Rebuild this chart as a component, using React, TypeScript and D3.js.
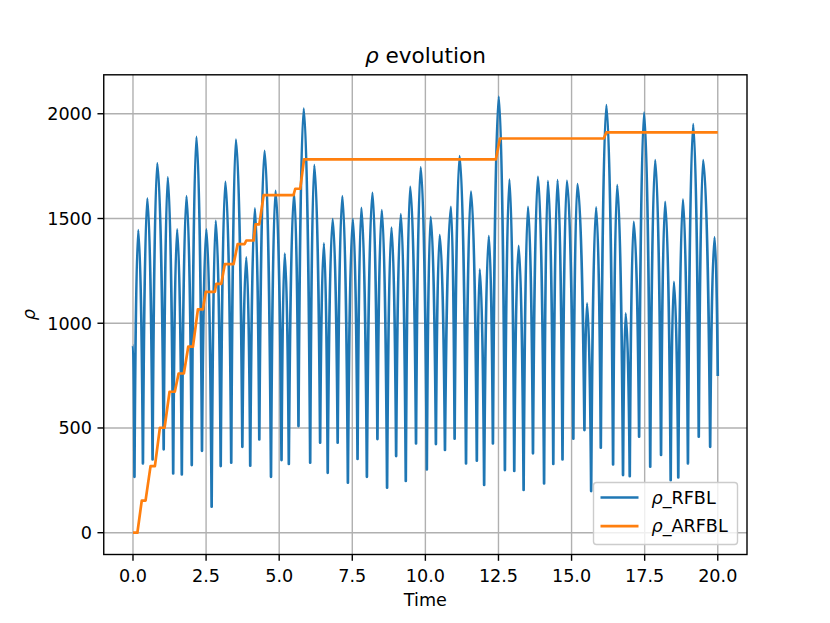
import * as d3 from "d3";

// rho_RFBL: extrema (time, value)
const rfblTime = [
  0, 0.05, 0.18, 0.34, 0.49, 0.67, 0.83, 1.05, 1.19, 1.375, 1.51, 1.67, 1.83, 2.01, 2.17, 2.36,
  2.51, 2.69, 2.83, 3.0, 3.16, 3.36, 3.52, 3.74, 3.875, 4.01, 4.17, 4.32, 4.5, 4.72, 4.875, 5.08,
  5.19, 5.33, 5.51, 5.66, 5.84, 6.06, 6.2, 6.4, 6.53, 6.66, 6.83, 7.0, 7.16, 7.35, 7.52, 7.68,
  7.81, 8.0, 8.19, 8.36, 8.51, 8.69, 8.84, 9.0, 9.16, 9.33, 9.48, 9.68, 9.84, 10.05, 10.18, 10.36,
  10.49, 10.67, 10.875, 11.0, 11.17, 11.39, 11.56, 11.76, 11.86, 12.01, 12.17, 12.31, 12.51, 12.72,
  12.875, 13.04, 13.19, 13.36, 13.51, 13.68, 13.85, 14.06, 14.19, 14.375, 14.52, 14.69, 14.84,
  15.06, 15.2, 15.44, 15.53, 15.67, 15.84, 16.0, 16.19, 16.42, 16.56, 16.76, 16.85, 16.99, 17.125,
  17.31, 17.48, 17.69, 17.86, 18.06, 18.2, 18.39, 18.5, 18.65, 18.81, 18.98, 19.16, 19.35, 19.5,
  19.74, 19.89, 20.0,
];
const rfblValue = [
  896, 267, 1445, 331, 1596, 350, 1763, 398, 1696, 283, 1448, 278, 1607, 323, 1890, 391,
  1448, 124, 1489, 318, 1675, 334, 1877, 410, 1314, 320, 1548, 445, 1823, 267, 1632, 347,
  1333, 328, 1620, 509, 2025, 334, 1755, 430, 1381, 286, 1497, 430, 1607, 239, 1497, 352,
  1551, 267, 1623, 447, 1540, 215, 1457, 366, 1521, 247, 1651, 426, 1744, 302, 1508, 423,
  1421, 395, 1556, 449, 1798, 331, 1628, 344, 1257, 228, 1416, 426, 2082, 299,
  1686, 295, 1370, 204, 1556, 379, 1699, 235, 1679, 328, 1683, 350, 1680,
  449, 1664, 490, 1095, 199, 1553, 406, 2041, 326, 1659, 275, 1047, 270, 1484,
  458, 2005, 315, 1779, 371, 1580, 251, 1198, 264, 1591, 331, 1951, 458, 1779,
  410, 1410, 748,
];

// rho_ARFBL: step vertices
const arfblTime = [
  0, 0.15, 0.3, 0.43, 0.6, 0.75, 0.92, 1.08, 1.25, 1.43, 1.56, 1.74, 1.89, 2.05, 2.22, 2.39,
  2.49, 2.8, 2.85, 3.02, 3.14, 3.44, 3.58, 3.82, 3.875, 4.125, 4.19, 4.32, 4.47, 5.49, 5.55,
  5.72, 5.85, 12.41, 12.55, 16.1, 16.19, 20,
];
const arfblValue = [
  0, 0, 153, 153, 318, 318, 501, 501, 673, 673, 760, 760, 888, 888, 1066, 1066,
  1150, 1150, 1188, 1188, 1282, 1282, 1378, 1378, 1395, 1395, 1472, 1472, 1612, 1612, 1642,
  1642, 1782, 1782, 1882, 1882, 1911, 1911,
];

const xTicks = [0, 2.5, 5, 7.5, 10, 12.5, 15, 17.5, 20];
const xTickLabels = ["0.0", "2.5", "5.0", "7.5", "10.0", "12.5", "15.0", "17.5", "20.0"];
const yTicks = [0, 500, 1000, 1500, 2000];
const yTickLabels = ["0", "500", "1000", "1500", "2000"];

const seriesNames = ["_RFBL", "_ARFBL"];
const colors = ["#1f77b4", "#ff7f0e"];

// curve with narrow troughs and rounded peaks (screen y grows downwards)
const cuspCurve = (context: any) => {
  let px = NaN;
  let py = NaN;
  let n = 0;
  return {
    areaStart() {},
    areaEnd() {},
    lineStart() {
      n = 0;
    },
    lineEnd() {},
    point(x: number, y: number) {
      if (n === 0) {
        context.moveTo(x, y);
      } else {
        const dx = x - px;
        if (y < py) {
          // rising: trough -> peak
          context.bezierCurveTo(px + 0.18 * dx, py + 0.5 * (y - py), x - 0.45 * dx, y, x, y);
        } else {
          // falling: peak -> trough
          context.bezierCurveTo(px + 0.45 * dx, py, x - 0.18 * dx, y + 0.5 * (py - y), x, y);
        }
      }
      px = x;
      py = y;
      n++;
    },
  };
};

const App = () => {
  const width = 830;
  const height = 623;
  const left = 103.75;
  const right = 747;
  const top = 74.8;
  const bottom = 554.5;
  const font = "DejaVu Sans, sans-serif";
  const fs = 17.6;

  const x = d3.scaleLinear([-1, 21], [left, right]);
  const y = d3.scaleLinear([-104, 2186], [bottom, top]);

  const blue = d3
    .line<number>((d, i) => x(rfblTime[i]), (d) => y(d))
    .curve(cuspCurve as any);
  const orange = d3.line<number>((d, i) => x(arfblTime[i]), (d) => y(d));

  const legX = 593.5;
  const legY = 482.5;

  return (
    <svg
      width={width}
      height={height}
      style={{ position: "absolute", left: 0, top: 0, background: "#fff" }}
      fontFamily={font}
    >
      <defs>
        <clipPath id='plot'>
          <rect x={left} y={top} width={right - left} height={bottom - top} />
        </clipPath>
      </defs>
      <rect x={0} y={0} width={width} height={height} fill='#fff' />

      {/* grid */}
      <g stroke='#b0b0b0' strokeWidth={1.4}>
        {xTicks.map((t) => (
          <line key={"gx" + t} x1={x(t)} x2={x(t)} y1={top} y2={bottom} />
        ))}
        {yTicks.map((t) => (
          <line key={"gy" + t} x1={left} x2={right} y1={y(t)} y2={y(t)} />
        ))}
      </g>

      <g clipPath='url(#plot)' fill='none' strokeWidth={2.7} strokeLinejoin='round'>
        <path d={blue(rfblValue)!} stroke={colors[0]} />
        <path d={orange(arfblValue)!} stroke={colors[1]} />
      </g>

      {/* spines */}
      <rect
        x={left}
        y={top}
        width={right - left}
        height={bottom - top}
        fill='none'
        stroke='#000'
        strokeWidth={1.4}
      />

      {/* x axis */}
      <g fontSize={fs} textAnchor='middle' fill='#000'>
        {xTicks.map((t, i) => (
          <g key={"xt" + t}>
            <line x1={x(t)} x2={x(t)} y1={bottom} y2={bottom + 6.3} stroke='#000' strokeWidth={1.4} />
            <text x={x(t)} y={581.5}>
              {xTickLabels[i]}
            </text>
          </g>
        ))}
        <text x={(left + right) / 2} y={605.5}>
          Time
        </text>
      </g>

      {/* y axis */}
      <g fontSize={fs} textAnchor='end' fill='#000'>
        {yTicks.map((t, i) => (
          <g key={"yt" + t}>
            <line x1={left - 6.3} x2={left} y1={y(t)} y2={y(t)} stroke='#000' strokeWidth={1.4} />
            <text x={92} y={y(t)} dy='0.36em'>
              {yTickLabels[i]}
            </text>
          </g>
        ))}
      </g>
      <text
        transform={`translate(35,${(top + bottom) / 2}) rotate(-90)`}
        fontSize={fs}
        fontStyle='italic'
        textAnchor='middle'
      >
        ρ
      </text>

      {/* title */}
      <text x={(left + right) / 2} y={63} fontSize={21.6} textAnchor='middle'>
        <tspan fontStyle='italic'>ρ</tspan> evolution
      </text>

      {/* legend */}
      <rect
        x={legX}
        y={legY}
        width={144}
        height={62}
        rx={3}
        fill='#fff'
        fillOpacity={0.8}
        stroke='#cccccc'
        strokeWidth={1.4}
      />
      {seriesNames.map((name, i) => (
        <g key={name}>
          <line
            x1={legX + 7}
            x2={legX + 45}
            y1={legY + 15 + i * 28.7}
            y2={legY + 15 + i * 28.7}
            stroke={colors[i]}
            strokeWidth={2.7}
          />
          <text x={legX + 58} y={legY + 21 + i * 28.7} fontSize={fs}>
            <tspan fontStyle='italic'>ρ</tspan>
            {name}
          </text>
        </g>
      ))}
    </svg>
  );
};

export default App;
